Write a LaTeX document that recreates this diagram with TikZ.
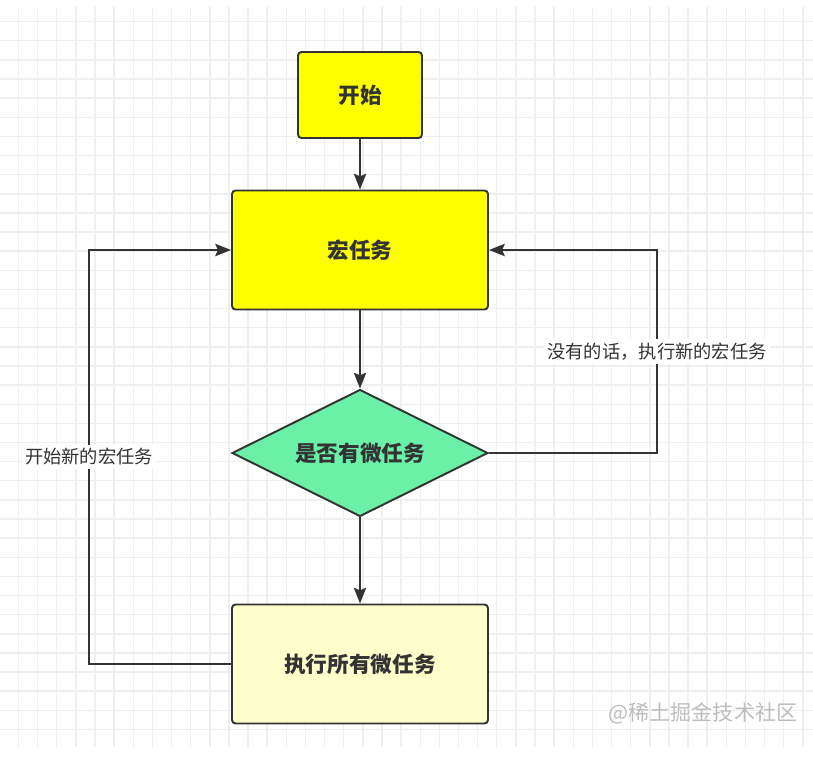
\documentclass[tikz,border=0pt]{standalone}
\usepackage{fontspec}
\setmainfont{Noto Sans CJK SC}
\usetikzlibrary{shapes.geometric,arrows.meta}
\definecolor{lineclr}{HTML}{333333}
\definecolor{gridclr}{HTML}{EFEFEF}
\definecolor{macroclr}{HTML}{FFFF00}
\definecolor{checkclr}{HTML}{6BF0A8}
\definecolor{microclr}{HTML}{FFFFCC}
\definecolor{markclr}{HTML}{BDBDBD}

\begin{document}
\begin{tikzpicture}[x=0.02cm, y=-0.02cm]
\tikzstyle{gridline} = [gridclr, line width = 0.8pt]
\tikzstyle{taskbox} = [rectangle, rounded corners = 2pt, draw = lineclr, line width = 1.1pt, text = lineclr, font = \fontsize{12.3}{14}\selectfont\bfseries, minimum width = 5.12cm, minimum height = 2.38cm]
\tikzstyle{checkbox} = [diamond, aspect = 2.02, draw = lineclr, line width = 1.1pt, fill = checkclr, text = lineclr, inner sep = 0 pt, font = \fontsize{12.3}{14}\selectfont\bfseries, minimum width = 5.12cm, minimum height = 2.54cm]
\tikzstyle{flow} = [draw = lineclr, line width = 1.1pt, -{Stealth[length = 9pt, width = 7pt, inset = 1.5pt]}]
\tikzstyle{loop} = [draw = lineclr, line width = 1.1pt, -{Stealth[length = 9pt, width = 7pt, inset = 1.5pt]}]
\tikzstyle{looplabel} = [fill = white, text = lineclr, inner sep = 2 pt, font = \fontsize{10.4}{12}\selectfont]
\useasboundingbox (0,0) rectangle (813,770);
\fill[white] (0,0) rectangle (813,770);
\foreach \i in {-1,...,41} \draw[gridline] ({18.5+19.13*\i},7) -- ({18.5+19.13*\i},747);
\foreach \j in {1,...,38} \draw[gridline] (0,{2.5+19.13*\j}) -- (813,{2.5+19.13*\j});

\node [taskbox, fill = macroclr, minimum width = 2.48cm, minimum height = 1.72cm] (start) at (360,95) {开始};
\node [taskbox, fill = macroclr] (macro) at (360,250) {宏任务};
\node [checkbox] (check) at (360,453) {是否有微任务};
\node [taskbox, fill = microclr] (micro) at (360,664) {执行所有微任务};
\coordinate (lcorner) at (89,664);
\coordinate (rcorner) at (657,453);

\draw [flow] (start) -- (macro);
\draw [flow] (macro) -- (check);
\draw [flow] (check) -- (micro);
\draw [loop] (micro.west) -- (lcorner) |- node [looplabel, pos = 0.25] {开始新的宏任务} (macro.west);
\draw [loop] (check.east) -- (rcorner) |- node [looplabel, pos = 0.25] {没有的话，执行新的宏任务} (macro.east);

\node [text = markclr, font = \fontsize{12}{14}\selectfont] (mark) at (703,713) {@稀土掘金技术社区};
\end{tikzpicture}
\end{document}
